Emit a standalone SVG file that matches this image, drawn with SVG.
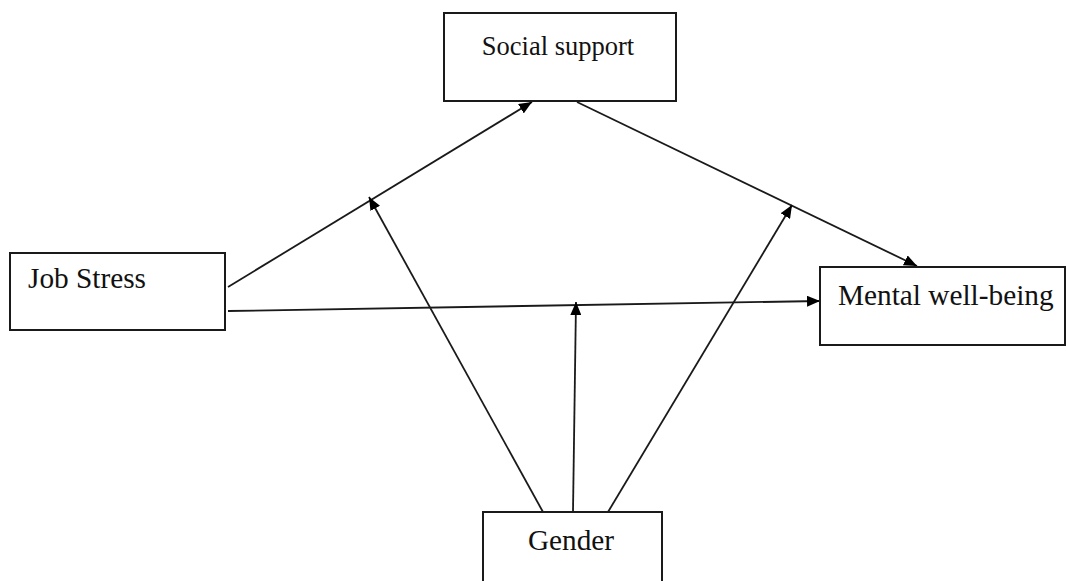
<svg xmlns="http://www.w3.org/2000/svg" width="1067" height="581" viewBox="0 0 1067 581">
<defs>
<style>
.box{fill:#fff;stroke:#1a1a1a;stroke-width:2}
.lbl{font-family:"Liberation Serif","Times New Roman",serif;fill:#111}
.con{stroke:#1a1a1a;stroke-width:1.8;fill:none;marker-end:url(#ah)}
</style>
<marker id="ah" viewBox="0 0 13 11" refX="13" refY="5.5" markerWidth="13" markerHeight="11" markerUnits="userSpaceOnUse" orient="auto">
<path d="M0,0 L13,5.5 L0,11 Z" fill="#000"/>
</marker>
</defs>
<rect width="1067" height="581" fill="#fff"/>
<g id="connectors">
<line class="con" x1="228" y1="287" x2="532" y2="102"/>
<line class="con" x1="577" y1="102" x2="917" y2="266"/>
<line class="con" x1="228" y1="311" x2="820" y2="301"/>
<line class="con" x1="543" y1="512" x2="369" y2="197"/>
<line class="con" x1="573" y1="512" x2="576" y2="302"/>
<line class="con" x1="608" y1="512" x2="792" y2="205"/>
</g>
<g id="social-support">
<rect class="box" x="444" y="13" width="232" height="88"/>
<text class="lbl" x="558" y="55" font-size="26.5" text-anchor="middle">Social support</text>
</g>
<g id="job-stress">
<rect class="box" x="10" y="253" width="215" height="77"/>
<text class="lbl" x="28" y="288" font-size="29.3">Job Stress</text>
</g>
<g id="mental-well-being">
<rect class="box" x="820" y="267" width="245" height="78"/>
<text class="lbl" x="838" y="305" font-size="29.3">Mental well-being</text>
</g>
<g id="gender">
<rect class="box" x="483" y="512" width="179" height="80"/>
<text class="lbl" x="571" y="550" font-size="29.3" text-anchor="middle">Gender</text>
</g>
</svg>
